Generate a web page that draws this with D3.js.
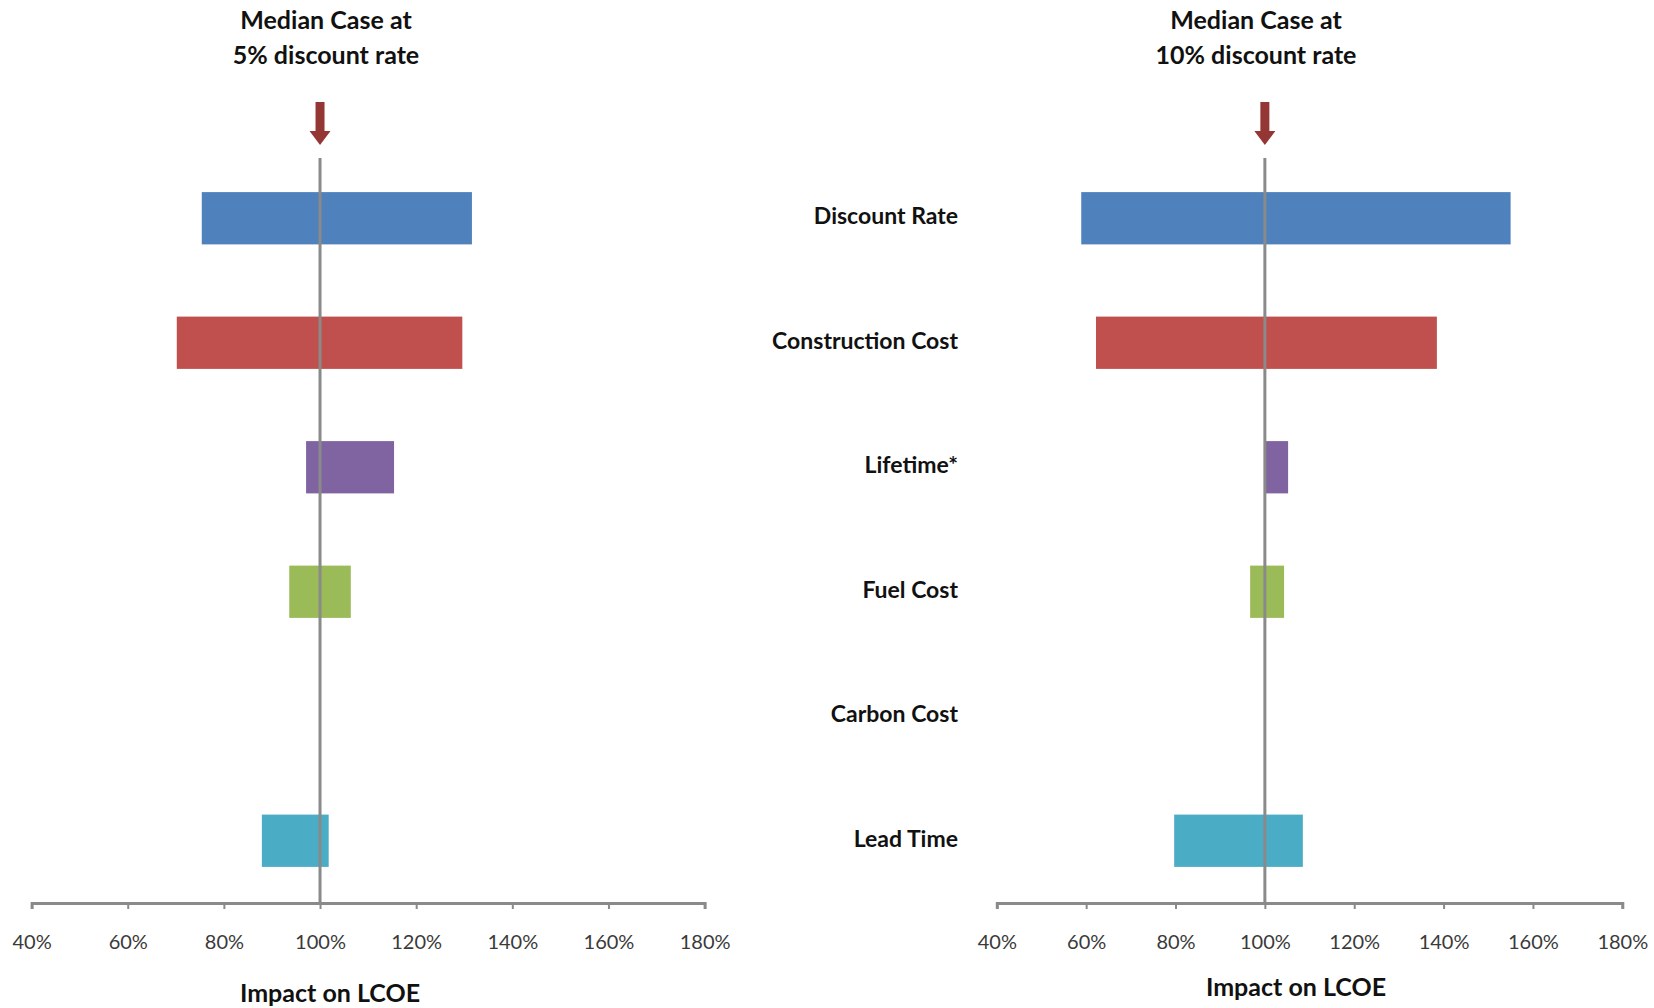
<!DOCTYPE html>
<html>
<head>
<meta charset="utf-8">
<script src="https://cdn.jsdelivr.net/npm/d3@7"></script>
<style>
  html, body { margin: 0; padding: 0; background: #fff; }
  svg { display: block; }
  text { font-family: Lato, "Open Sans", "Liberation Sans", sans-serif; }
</style>
</head>
<body>
<svg id="chart" width="1654" height="1008"></svg>
<script>
// ---- Data ----
const categories = ["Discount Rate", "Construction Cost", "Lifetime*", "Fuel Cost", "Carbon Cost", "Lead Time"];
const low5  = [0.754, 0.702, 0.971, 0.936, null, 0.879];
const high5 = [1.316, 1.296, 1.154, 1.064, null, 1.018];
const low10  = [0.589, 0.622, 1.000, 0.967, null, 0.797];
const high10 = [1.550, 1.385, 1.052, 1.043, null, 1.085];
const barColors = ["#4F81BD", "#C0504D", "#8064A2", "#9BBB59", "#4BACC6", "#4BACC6"];
const tickValues = [0.4, 0.6, 0.8, 1.0, 1.2, 1.4, 1.6, 1.8];
const panelTitles = [["Median Case at", "5% discount rate"], ["Median Case at", "10% discount rate"]];
const axisTitle = "Impact on LCOE";
const medianValue = 1.0;

const svg = d3.select("#chart");

const panels = [
  { low: low5, high: high5, xRange: [31.6, 704.6], titleX: 326, axisTitleX: 330, axisTitleY: 996 },
  { low: low10, high: high10, xRange: [996.8, 1622.3], titleX: 1256, axisTitleX: 1296, axisTitleY: 990 }
];

const axisY = 903;
const y = d3.scaleBand().domain(categories).range([156, axisY]).paddingInner(0.58).paddingOuter(0.29);

panels.forEach((p, pi) => {
  const x = d3.scaleLinear().domain([0.4, 1.8]).range(p.xRange);
  const g = svg.append("g");

  const rows = categories.map((c, i) => ({ cat: c, lo: p.low[i], hi: p.high[i], color: barColors[i] }))
    .filter(d => d.lo != null);

  // bars
  g.selectAll("rect.bar").data(rows).enter().append("rect")
    .attr("class", "bar")
    .attr("x", d => x(d.lo))
    .attr("y", d => y(d.cat))
    .attr("width", d => x(d.hi) - x(d.lo))
    .attr("height", y.bandwidth())
    .attr("fill", d => d.color);

  // median vertical line
  g.append("line")
    .attr("x1", x(medianValue)).attr("x2", x(medianValue))
    .attr("y1", 158).attr("y2", axisY)
    .attr("stroke", "#8a8a8a").attr("stroke-width", 3);

  // x axis
  const axis = d3.axisBottom(x).tickValues(tickValues).tickSize(6).tickPadding(26)
    .tickFormat(d3.format(".0%"));
  const ag = g.append("g").attr("transform", `translate(0,${axisY})`).call(axis);
  ag.select(".domain").attr("stroke", "#8a8a8a").attr("stroke-width", 3);
  ag.selectAll(".tick line").attr("stroke", "#8a8a8a").attr("stroke-width", 2);
  ag.selectAll(".tick text").attr("fill", "#3a3a3a").style("font-size", "20px")
    .style("font-family", "Lato, 'Open Sans', sans-serif");

  // axis title
  g.append("text")
    .attr("x", p.axisTitleX).attr("y", p.axisTitleY)
    .attr("text-anchor", "middle").attr("dominant-baseline", "middle")
    .attr("fill", "#111").style("font-size", "25px").style("font-weight", "bold")
    .text(axisTitle);

  // panel title
  panelTitles[pi].forEach((t, li) => {
    g.append("text")
      .attr("x", p.titleX).attr("y", 23 + li * 35)
      .attr("text-anchor", "middle").attr("dominant-baseline", "middle")
      .attr("fill", "#111").style("font-size", "25px").style("font-weight", "bold")
      .text(t);
  });

  // arrow
  const ax = x(medianValue);
  const arrow = d3.path();
  arrow.moveTo(ax - 4.5, 102);
  arrow.lineTo(ax + 4.5, 102);
  arrow.lineTo(ax + 4.5, 131);
  arrow.lineTo(ax + 10.5, 131);
  arrow.lineTo(ax, 145);
  arrow.lineTo(ax - 10.5, 131);
  arrow.lineTo(ax - 4.5, 131);
  arrow.closePath();
  g.append("path").attr("d", arrow.toString()).attr("fill", "#943634");
});

// category labels (between panels)
svg.append("g").selectAll("text").data(categories).enter().append("text")
  .attr("x", 958)
  .attr("y", d => y(d) + y.bandwidth() / 2)
  .attr("text-anchor", "end").attr("dominant-baseline", "middle")
  .attr("fill", "#111").style("font-size", "23px").style("font-weight", "bold")
  .text(d => d);
</script>
</body>
</html>
